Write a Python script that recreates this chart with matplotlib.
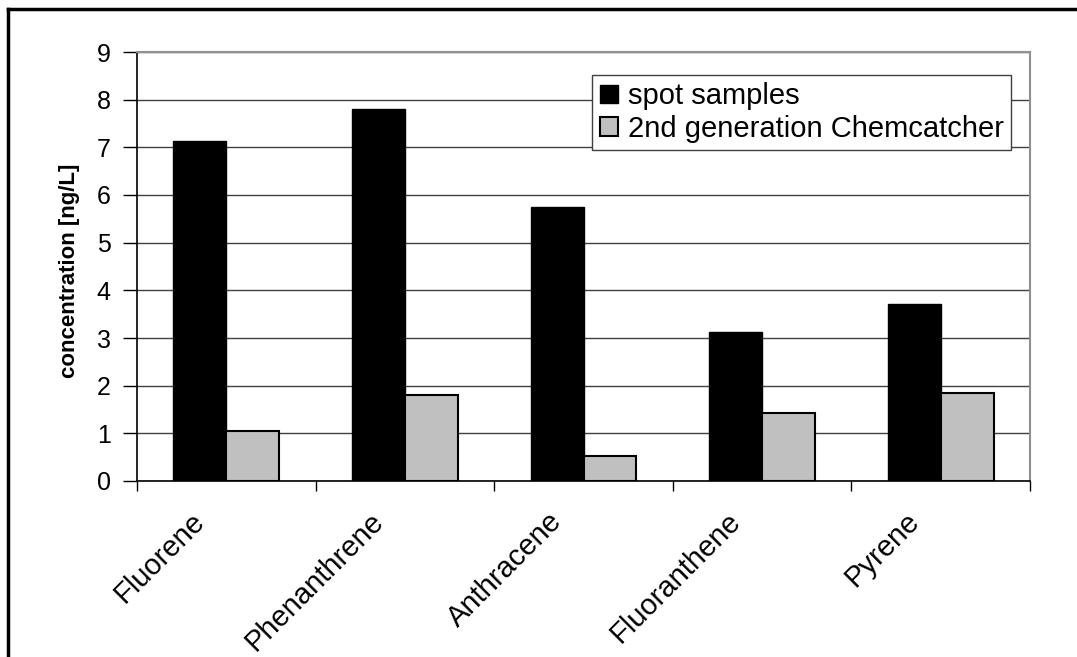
#!/usr/bin/env python3
"""Spot samples vs. 2nd generation Chemcatcher - PAH concentrations."""

import numpy as np
import matplotlib
matplotlib.use('Agg')
import matplotlib.pyplot as plt
from matplotlib.lines import Line2D
from matplotlib.transforms import ScaledTranslation

# Data
compounds = ['Fluorene', 'Phenanthrene', 'Anthracene', 'Fluoranthene', 'Pyrene']
spot_samples = [7.14, 7.81, 5.74, 3.12, 3.71]
chemcatcher = [1.04, 1.81, 0.53, 1.43, 1.85]
series_labels = ['spot samples', '2nd generation Chemcatcher']
y_ticks = list(range(0, 10))

plt.rcParams['font.family'] = ['Liberation Sans', 'DejaVu Sans']

W, H = 1077, 657
fig = plt.figure(figsize=(W / 100, H / 100), dpi=100)
ax = fig.add_axes([137 / W, 1 - 481 / H, 893 / W, 429 / H])

x = np.arange(len(compounds)) + 0.5
width = 0.296
ax.bar(x - width / 2, spot_samples, width, color='black', edgecolor='black',
       linewidth=1.0, label=series_labels[0], zorder=3)
ax.bar(x + width / 2, chemcatcher, width, color='#c0c0c0', edgecolor='black',
       linewidth=1.5, label=series_labels[1], zorder=3)

ax.set_xlim(0, len(compounds))
ax.set_ylim(0, 9)
ax.set_yticks(y_ticks)
ax.set_yticklabels([str(v) for v in y_ticks], fontsize=18)
ax.yaxis.grid(True, color='#404040', linewidth=1.0, zorder=0)
ax.set_axisbelow(True)

# category separators as ticks, labels at centres
ax.set_xticks(np.arange(len(compounds) + 1))
ax.set_xticklabels([])
ax.set_xticks(x, minor=True)
ax.set_xticklabels(compounds, minor=True, rotation=45, ha='right', va='center',
                   rotation_mode='anchor', fontsize=21)
ax.tick_params(axis='x', which='minor', length=0, pad=26)
ax.tick_params(axis='x', which='major', length=7, width=1, direction='out')
ax.tick_params(axis='y', length=10, width=1, direction='out', pad=9)
shift = ScaledTranslation(-26 / 100, 0, fig.dpi_scale_trans)
for lbl in ax.get_xticklabels(minor=True):
    lbl.set_transform(lbl.get_transform() + shift)

for side in ['top', 'right']:
    ax.spines[side].set_color('#909090')
    ax.spines[side].set_linewidth(1.5)
for side in ['left', 'bottom']:
    ax.spines[side].set_color('black')
    ax.spines[side].set_linewidth(1.2)

ax.set_ylabel('concentration [ng/L]', fontsize=16, fontweight='bold')
ax.yaxis.set_label_coords((80 - 137) / 893, 0.49)

leg = ax.legend(loc='upper right', bbox_to_anchor=(0.979, 0.946), borderaxespad=0,
                fontsize=21, fancybox=False, framealpha=1, edgecolor='#404040',
                handlelength=0.62, handleheight=0.58, handletextpad=0.35,
                borderpad=0.25, labelspacing=0.15)
leg.get_frame().set_linewidth(1.0)
leg.set_zorder(5)

# outer chart frame (top and left visible)
fig.add_artist(Line2D([8 / W, 1.0], [1 - 9 / H, 1 - 9 / H],
                      transform=fig.transFigure, color='black', linewidth=2.5))
fig.add_artist(Line2D([8 / W, 8 / W], [0.0, 1 - 9 / H],
                      transform=fig.transFigure, color='black', linewidth=2.5))

plt.savefig('out.png', dpi=100)
plt.close()
